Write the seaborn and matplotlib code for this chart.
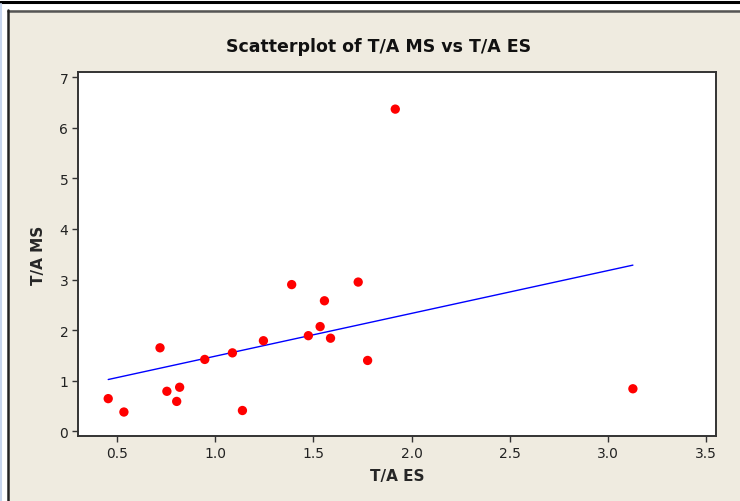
import matplotlib
matplotlib.use("Agg")
import matplotlib.pyplot as plt
import seaborn as sns
import pandas as pd
from matplotlib.lines import Line2D
from matplotlib.patches import Rectangle

ta_es = [0.454, 0.534, 0.718, 0.753, 0.803, 0.818, 0.946, 1.087, 1.138, 1.245,
         1.389, 1.474, 1.534, 1.556, 1.587, 1.728, 1.776, 1.917, 3.128]
ta_ms = [0.645, 0.38, 1.65, 0.79, 0.59, 0.87, 1.42, 1.55, 0.41, 1.79,
         2.90, 1.89, 2.07, 2.58, 1.84, 2.95, 1.40, 6.37, 0.84]
x_ticks = [0.5, 1.0, 1.5, 2.0, 2.5, 3.0, 3.5]
y_ticks = [0, 1, 2, 3, 4, 5, 6, 7]

df = pd.DataFrame({"T/A ES": ta_es, "T/A MS": ta_ms})

sns.set_style("white")
plt.rcParams["font.family"] = ["DejaVu Sans"]

bg = "#EFEBE0"
fig = plt.figure(figsize=(7.4, 5.02), dpi=100)
fig.patch.set_facecolor("white")

W, H = 740, 502
def fx(p): return p / W
def fy(p): return 1 - p / H

# beige panel
fig.add_artist(Rectangle((fx(8), 0), 1 - fx(8), fy(11), transform=fig.transFigure,
                         facecolor=bg, edgecolor="none", zorder=-10))
# frame lines
fig.add_artist(Line2D([0, 1], [fy(3), fy(3)], transform=fig.transFigure, color="black", lw=2.2, zorder=-5))
fig.add_artist(Line2D([fx(1), fx(1)], [0, fy(5)], transform=fig.transFigure, color="#C8D6EE", lw=1.5, zorder=-5))
fig.add_artist(Line2D([fx(8), 1], [fy(11.5), fy(11.5)], transform=fig.transFigure, color="#555555", lw=1.8, zorder=-5))
fig.add_artist(Line2D([fx(8), fx(8)], [0, fy(11)], transform=fig.transFigure, color="#222222", lw=1.8, zorder=-5))

ax = fig.add_axes([fx(78), fy(437.3), fx(715.7) - fx(78), fy(72.7) - fy(437.3)])
ax.set_zorder(1)
ax.set_facecolor("white")

sns.regplot(data=df, x="T/A ES", y="T/A MS", ax=ax, ci=None,
            scatter_kws=dict(color="#FF0000", s=45, edgecolor="none", alpha=1, zorder=3),
            line_kws=dict(color="#0000FF", lw=1.0, zorder=2))

ax.set_xlim(0.30, 3.55)
ax.set_ylim(-0.1, 7.11)
ax.set_xticks(x_ticks)
ax.set_xticklabels([f"{v:.1f}" for v in x_ticks])
ax.set_yticks(y_ticks)
ax.tick_params(axis="both", direction="out", length=4, width=1, color="#333333",
               labelsize=10, labelcolor="#222222", bottom=True, left=True, pad=3)
for s in ax.spines.values():
    s.set_color("#333333")
    s.set_linewidth(1.4)

ax.set_xlabel("T/A ES", fontsize=11, fontweight="bold", labelpad=6)
ax.set_ylabel("T/A MS", fontsize=11, fontweight="bold", labelpad=10)
fig.text(fx(379), fy(47), "Scatterplot of T/A MS vs T/A ES", ha="center", va="center",
         fontsize=12.5, fontweight="bold", color="#111111")

fig.savefig("out.png", dpi=100, facecolor=fig.get_facecolor())
